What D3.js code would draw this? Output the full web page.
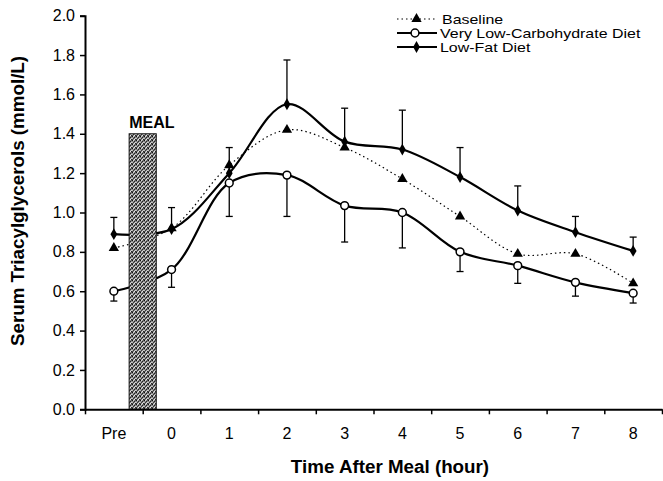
<!DOCTYPE html>
<html><head><meta charset="utf-8">
<script src="https://cdn.jsdelivr.net/npm/d3@7"></script>
<style>
body{margin:0;background:#fff;}
text{font-family:"Liberation Sans",Arial,Helvetica,sans-serif;fill:#000;}
</style></head>
<body><svg id="c" width="663" height="481"></svg>
<script>
const categories = ["Pre","0","1","2","3","4","5","6","7","8"];
const yTicks = [0,0.2,0.4,0.6,0.8,1.0,1.2,1.4,1.6,1.8,2.0];
const baseline = [0.82,0.92,1.24,1.42,1.33,1.17,0.98,0.79,0.79,0.64];
const vlc = [0.60,0.71,1.15,1.19,1.035,1.00,0.80,0.73,0.645,0.59];
const vlcSE = [0.05,0.09,0.17,0.21,0.185,0.18,0.10,0.09,0.07,0.05];
const lowFat = [0.89,0.915,1.20,1.55,1.36,1.32,1.18,1.01,0.90,0.805];
const lowFatSE = [0.085,0.11,0.13,0.225,0.17,0.20,0.15,0.125,0.08,0.07];
const seriesNames = ["Baseline","Very Low-Carbohydrate Diet","Low-Fat Diet"];
const mealLabel = "MEAL";
const mealTop = 1.4;

const svg = d3.select("#c");
const x = d3.scaleBand().domain(categories).range([85,662]).paddingInner(0).paddingOuter(0);
const xb = d3.scaleLinear().domain([0,categories.length]).range([85,662]);
const y = d3.scaleLinear().domain([0,2]).range([409.3,15.7]);
const cx = i => x(categories[i]) + x.bandwidth()/2;

// lines
const line = d3.line().x((d,i)=>cx(i)).y(d=>y(d)).curve(d3.curveCatmullRom.alpha(0.5));
svg.append("path").attr("d",line(baseline)).attr("fill","none").attr("stroke","#000")
  .attr("stroke-width",1.2).attr("stroke-dasharray","1.5,3");
svg.append("path").attr("d",line(vlc)).attr("fill","none").attr("stroke","#000").attr("stroke-width",2.2);
svg.append("path").attr("d",line(lowFat)).attr("fill","none").attr("stroke","#000").attr("stroke-width",2.2);

// meal bar pattern (stippled gray)
const defs = svg.append("defs");
const pat = defs.append("pattern").attr("id","stip").attr("width",4).attr("height",4).attr("patternUnits","userSpaceOnUse");
pat.append("rect").attr("width",4).attr("height",4).attr("fill","#8a8a8a");
[[0,0,"#111"],[2,1,"#222"],[1,2,"#333"],[3,3,"#2a2a2a"],[3,0,"#555"],[0,3,"#444"],[2,3,"#e8e8e8"],[1,0,"#d8d8d8"],[0,2,"#bbb"],[3,2,"#cfcfcf"]]
  .forEach(p=>pat.append("rect").attr("x",p[0]).attr("y",p[1]).attr("width",1).attr("height",1).attr("fill",p[2]));
const bw = x.bandwidth()*0.47;
const mx = xb(1) - bw/2;
svg.append("rect").attr("x",mx).attr("y",y(mealTop)).attr("width",bw).attr("height",y(0)-y(mealTop))
  .attr("fill","url(#stip)").attr("stroke","#111").attr("stroke-width",1);
svg.append("text").attr("x",mx).attr("y",y(mealTop)-6).attr("font-size",16).attr("font-weight","bold").text(mealLabel);

// error bars
function errBars(vals, se, dir){
  const g = svg.append("g").attr("stroke","#000").attr("stroke-width",1.3);
  vals.forEach((v,i)=>{
    const e = v + dir*se[i];
    g.append("line").attr("x1",cx(i)).attr("x2",cx(i)).attr("y1",y(v)).attr("y2",y(e));
    g.append("line").attr("x1",cx(i)-3.5).attr("x2",cx(i)+3.5).attr("y1",y(e)).attr("y2",y(e));
  });
}
errBars(lowFat, lowFatSE, 1);
errBars(vlc, vlcSE, -1);

// markers
const tri = d3.symbol().type(d3.symbolTriangle).size(46);
const dia = d3.symbol().type(d3.symbolDiamond).size(40);
svg.append("g").selectAll("path").data(baseline).join("path")
  .attr("d",tri).attr("transform",(d,i)=>`translate(${cx(i)},${y(d)})`).attr("fill","#000");
svg.append("g").selectAll("path").data(lowFat).join("path")
  .attr("d",dia).attr("transform",(d,i)=>`translate(${cx(i)},${y(d)})`).attr("fill","#000");
svg.append("g").selectAll("circle").data(vlc).join("circle")
  .attr("cx",(d,i)=>cx(i)).attr("cy",d=>y(d)).attr("r",3.9)
  .attr("fill","#fff").attr("stroke","#000").attr("stroke-width",1.5);

// axes
const ya = svg.append("g").attr("transform","translate(85,0)")
  .call(d3.axisLeft(y).tickValues(yTicks).tickFormat(d3.format(".1f")).tickSize(5).tickPadding(5));
ya.select(".domain").attr("stroke-width",2);
ya.selectAll(".tick line").attr("stroke-width",1.5);
ya.selectAll("text").attr("font-size",16).attr("font-family","Liberation Sans, Arial, sans-serif");

const xa = svg.append("g").attr("transform",`translate(0,${y(0)})`)
  .call(d3.axisBottom(xb).tickValues(d3.range(0,categories.length+1)).tickFormat("").tickSize(5).tickSizeOuter(0));
xa.select(".domain").attr("stroke-width",2);
xa.selectAll(".tick line").attr("stroke-width",1.5);
const xl = svg.append("g").attr("transform",`translate(0,${y(0)})`)
  .call(d3.axisBottom(x).tickSize(0).tickPadding(18));
xl.select(".domain").remove();
xl.selectAll("text").attr("font-size",16).attr("font-family","Liberation Sans, Arial, sans-serif");

// titles
svg.append("text").attr("transform","translate(24,201) rotate(-90)").attr("text-anchor","middle")
  .attr("font-size",18.8).attr("font-weight","bold").text("Serum Triacylglycerols (mmol/L)");
svg.append("text").attr("x",390).attr("y",473).attr("text-anchor","middle")
  .attr("font-size",18.8).attr("font-weight","bold").text("Time After Meal (hour)");

// legend
const leg = svg.append("g");
const rows = [23.5,37.5,51.5];
const lx0 = 397, lx1 = 437, lmx = 416.5, off = 4.5;
leg.append("line").attr("x1",lx0).attr("x2",lx1).attr("y1",rows[0]-off).attr("y2",rows[0]-off)
  .attr("stroke","#000").attr("stroke-width",1.2).attr("stroke-dasharray","1.5,3");
leg.append("path").attr("d",tri).attr("transform",`translate(${lmx},${rows[0]-off})`);
leg.append("line").attr("x1",lx0).attr("x2",lx1).attr("y1",rows[1]-off).attr("y2",rows[1]-off)
  .attr("stroke","#000").attr("stroke-width",2.2);
leg.append("circle").attr("cx",lmx-1.5).attr("cy",rows[1]-off).attr("r",3.9).attr("fill","#fff").attr("stroke","#000").attr("stroke-width",1.5);
leg.append("line").attr("x1",lx0).attr("x2",lx1).attr("y1",rows[2]-off).attr("y2",rows[2]-off)
  .attr("stroke","#000").attr("stroke-width",2.2);
leg.append("path").attr("d",dia).attr("transform",`translate(${lmx},${rows[2]-off})`);
seriesNames.forEach((n,i)=>{
  leg.append("text").attr("transform",`translate(${i===0?442:440},${rows[i]}) scale(1.33,1)`)
    .attr("font-size",12).text(n);
});
</script></body></html>
